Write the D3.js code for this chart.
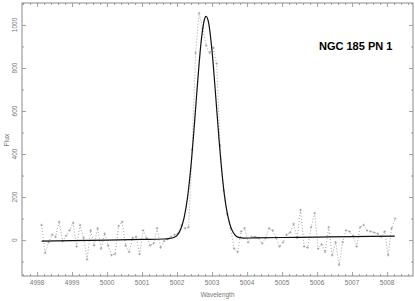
<!DOCTYPE html>
<html>
<head>
<meta charset="utf-8">
<script src="https://cdn.jsdelivr.net/npm/d3@7"></script>
<style>
  body { margin: 0; background: #fff; }
  svg { display: block; }
</style>
</head>
<body>
<div id="chart"></div>
<script>
// observed spectrum: wavelength grid start + step, flux per pixel
var lamStart = 4998.13;
var lamStep = 0.1;
var fluxData = [
  70, -60, -10, 25, 15, 85, -5, 20, 45, 80,
  -30, 70, 10, -90, 45, -25, 55, -40, 30, -25,
  -70, -65, 65, 85, -25, -55, 10, 15, -65, 45,
  10, -25, -15, 55, -35, -5, 5, 15, 25, 30,
  70, 55, 60, 420, 870, 1055, 985, 905, 870, 895,
  820, 440, 230, 120, 55, -40, -55, 40, 55, -10,
  15, 15, 10, -15, 10, 55, 45, 10, -30, -10,
  25, 35, 75, 10, 140, -30, -35, 60, 125, -40,
  -20, -55, 60, -70, -10, -115, -10, 45, 40, 20,
  -30, 60, 70, 45, 40, 35, 30, 15, 40, -70,
  55, 100
];

// gaussian + continuum fit, sampled
var fitLam = [4998.13, 4999, 5000, 5001, 5001.6, 5001.8, 5001.9, 5002.0, 5002.1, 5002.2,
  5002.3, 5002.4, 5002.5, 5002.6, 5002.7, 5002.8, 5002.83, 5002.9, 5003.0, 5003.1,
  5003.2, 5003.3, 5003.4, 5003.5, 5003.6, 5003.7, 5003.8, 5003.9, 5004.2, 5005,
  5006, 5007, 5008.22];
var fitFlux = [-5, -3, 0, 3, 5, 8, 12, 22, 49, 103,
  200, 350, 547, 761, 941, 1035, 1040, 1011, 877, 677,
  465, 284, 156, 78, 36, 17, 11, 9, 10, 12,
  14, 16, 18];

var xMajor = [4998, 4999, 5000, 5001, 5002, 5003, 5004, 5005, 5006, 5007, 5008];
var yMajor = [0, 200, 400, 600, 800, 1000];

var title = "NGC 185 PN 1";

var width = 415, height = 301;
var margin = {top: 3, right: 2, bottom: 25, left: 22};

var svg = d3.select("#chart").append("svg")
    .attr("width", width)
    .attr("height", height);

var x = d3.scaleLinear()
    .domain([4997.57, 5008.74])
    .range([margin.left, width - margin.right]);

var y = d3.scaleLinear()
    .domain([-167, 1102])
    .range([height - margin.bottom, margin.top]);

var axisColor = "#8a8a8a";
var labelColor = "#777";

// minor ticks
var xMinor = d3.range(4997.6, 5008.75, 0.2).filter(function(v) {
    return Math.abs(v - Math.round(v)) > 0.05;
});
var yMinor = d3.range(-100, 1101, 100).filter(function(v) { return v % 200 != 0; });

function tickAxis(axisFn, scale, vals, size, tx, ty) {
    var g = svg.append("g")
        .attr("transform", "translate(" + tx + "," + ty + ")")
        .call(axisFn(scale).tickValues(vals).tickSize(size).tickFormat(""));
    g.select(".domain").remove();
    g.selectAll("line").attr("stroke", axisColor).attr("stroke-width", 0.8);
    return g;
}

var x0 = margin.left, x1 = width - margin.right;
var y0 = height - margin.bottom, y1 = margin.top;

// bottom / top ticks (pointing inward)
tickAxis(d3.axisTop, x, xMajor, 4, 0, y0);
tickAxis(d3.axisTop, x, xMinor, 2, 0, y0);
tickAxis(d3.axisBottom, x, xMajor, 4, 0, y1);
tickAxis(d3.axisBottom, x, xMinor, 2, 0, y1);
// left / right ticks
tickAxis(d3.axisRight, y, yMajor, 4, x0, 0);
tickAxis(d3.axisRight, y, yMinor, 2, x0, 0);
tickAxis(d3.axisLeft, y, yMajor, 4, x1, 0);
tickAxis(d3.axisLeft, y, yMinor, 2, x1, 0);

// frame
svg.append("rect")
    .attr("x", x0)
    .attr("y", y1)
    .attr("width", x1 - x0)
    .attr("height", y0 - y1)
    .attr("fill", "none")
    .attr("stroke", axisColor)
    .attr("stroke-width", 1);

// tick labels
svg.append("g").selectAll("text")
    .data(xMajor)
    .enter().append("text")
    .attr("x", function(d) { return x(d); })
    .attr("y", y0 + 9)
    .attr("text-anchor", "middle")
    .attr("font-family", "Liberation Sans, Arial, sans-serif")
    .attr("font-size", 6.5)
    .attr("fill", labelColor)
    .text(function(d) { return d; });

svg.append("g").selectAll("text")
    .data(yMajor)
    .enter().append("text")
    .attr("transform", function(d) { return "translate(" + (x0 - 5) + "," + y(d) + ") rotate(-90)"; })
    .attr("text-anchor", "middle")
    .attr("font-family", "Liberation Sans, Arial, sans-serif")
    .attr("font-size", 6.5)
    .attr("fill", labelColor)
    .text(function(d) { return d; });

// axis titles
svg.append("text")
    .attr("x", (x0 + x1) / 2)
    .attr("y", 297)
    .attr("text-anchor", "middle")
    .attr("font-family", "Liberation Sans, Arial, sans-serif")
    .attr("font-size", 6.5)
    .attr("fill", labelColor)
    .text("Wavelength");

svg.append("text")
    .attr("transform", "translate(9,140) rotate(-90)")
    .attr("text-anchor", "middle")
    .attr("font-family", "Liberation Sans, Arial, sans-serif")
    .attr("font-size", 6.5)
    .attr("fill", labelColor)
    .text("Flux");

// observed data: dotted line + small crosses
var pts = fluxData.map(function(f, i) {
    return {lam: lamStart + i * lamStep, flux: f};
});

var line = d3.line()
    .x(function(d) { return x(d.lam); })
    .y(function(d) { return y(d.flux); });

svg.append("path")
    .datum(pts)
    .attr("d", line)
    .attr("fill", "none")
    .attr("stroke", "#8a8a8a")
    .attr("stroke-width", 0.8)
    .attr("stroke-dasharray", "1,2");

svg.append("g").selectAll("path")
    .data(pts)
    .enter().append("path")
    .attr("d", function(d) {
        var px = x(d.lam), py = y(d.flux);
        return "M" + (px - 1.3) + "," + py + "H" + (px + 1.3) + "M" + px + "," + (py - 1.3) + "V" + (py + 1.3);
    })
    .attr("stroke", "#909090")
    .attr("stroke-width", 0.6);

// fit curve
var fitPts = fitLam.map(function(l, i) { return {lam: l, flux: fitFlux[i]}; });

svg.append("path")
    .datum(fitPts)
    .attr("d", d3.line()
        .x(function(d) { return x(d.lam); })
        .y(function(d) { return y(d.flux); })
        .curve(d3.curveMonotoneX))
    .attr("fill", "none")
    .attr("stroke", "#111")
    .attr("stroke-width", 1.2);

// title
svg.append("text")
    .attr("x", 319)
    .attr("y", 50)
    .attr("font-family", "Liberation Sans, Arial, sans-serif")
    .attr("font-weight", "bold")
    .attr("font-size", 11)
    .attr("fill", "#000")
    .text(title);
</script>
</body>
</html>
